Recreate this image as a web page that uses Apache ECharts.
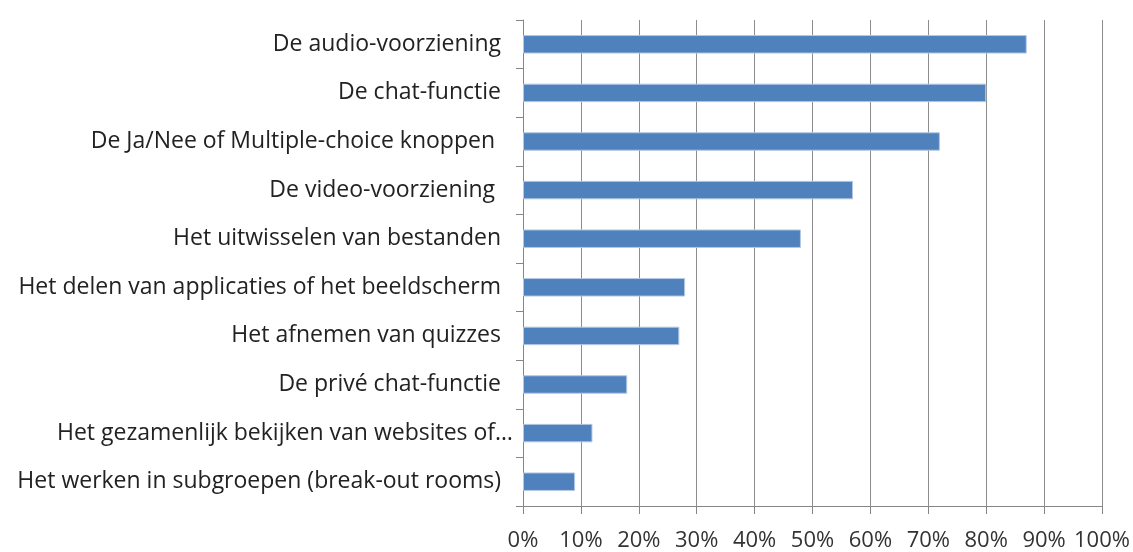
<!DOCTYPE html>
<html>
<head>
<meta charset="utf-8">
<script src="https://cdn.jsdelivr.net/npm/echarts@6/dist/echarts.min.js"></script>
<style>
  html, body { margin: 0; padding: 0; background: #fff; }
  #chart { width: 1133px; height: 552px; }
</style>
</head>
<body>
<div id="chart"></div>
<script>
// categories top to bottom
const categories = [
  'De audio-voorziening',
  'De chat-functie',
  'De Ja/Nee of Multiple-choice knoppen ',
  'De video-voorziening ',
  'Het uitwisselen van bestanden',
  'Het delen van applicaties of het beeldscherm',
  'Het afnemen van quizzes',
  'De privé chat-functie',
  'Het gezamenlijk bekijken van websites of…',
  'Het werken in subgroepen (break-out rooms)',
]
// percentages
const values = [87, 80, 72, 57, 48, 28, 27, 18, 12, 9]
const xTicks = [0, 10, 20, 30, 40, 50, 60, 70, 80, 90, 100]

const myChart = echarts.init(document.getElementById('chart'))

const option = {
  animation: false,
  textStyle: { fontFamily: 'Open Sans' },
  grid: {
    left: 523,
    right: 31,
    top: 20,
    bottom: 45,
    containLabel: false,
  },
  xAxis: {
    type: 'value',
    min: xTicks[0],
    max: xTicks[xTicks.length - 1],
    interval: 10,
    axisLine: { show: true, lineStyle: { color: '#868686', width: 1 } },
    axisTick: { show: true, length: 8, lineStyle: { color: '#868686' } },
    splitLine: { show: true, lineStyle: { color: '#8c8c8c', width: 1 } },
    axisLabel: {
      formatter: '{value}%',
      fontSize: 22,
      color: '#333',
      margin: 24,
    },
  },
  yAxis: {
    type: 'category',
    inverse: true,
    data: categories,
    axisLine: { show: true, lineStyle: { color: '#868686', width: 1 } },
    axisTick: { show: true, length: 7, alignWithLabel: false, lineStyle: { color: '#868686' } },
    axisLabel: {
      fontSize: 23,
      color: '#222',
      margin: 10,
      formatter: (v) => (v.endsWith('…') ? '{t|' + v + '}' : '{n|' + v + '}'),
      rich: {
        n: { fontSize: 23, color: '#222', padding: [0, 12, 0, 0] },
        t: { fontSize: 23, color: '#222' },
      },
    },
  },
  series: [
    {
      type: 'bar',
      data: values,
      barWidth: '38%',
      itemStyle: {
        color: '#4f81bd',
        borderColor: '#b4c8e4',
        borderWidth: 1,
      },
    },
  ],
}

myChart.setOption(option)
</script>
</body>
</html>
